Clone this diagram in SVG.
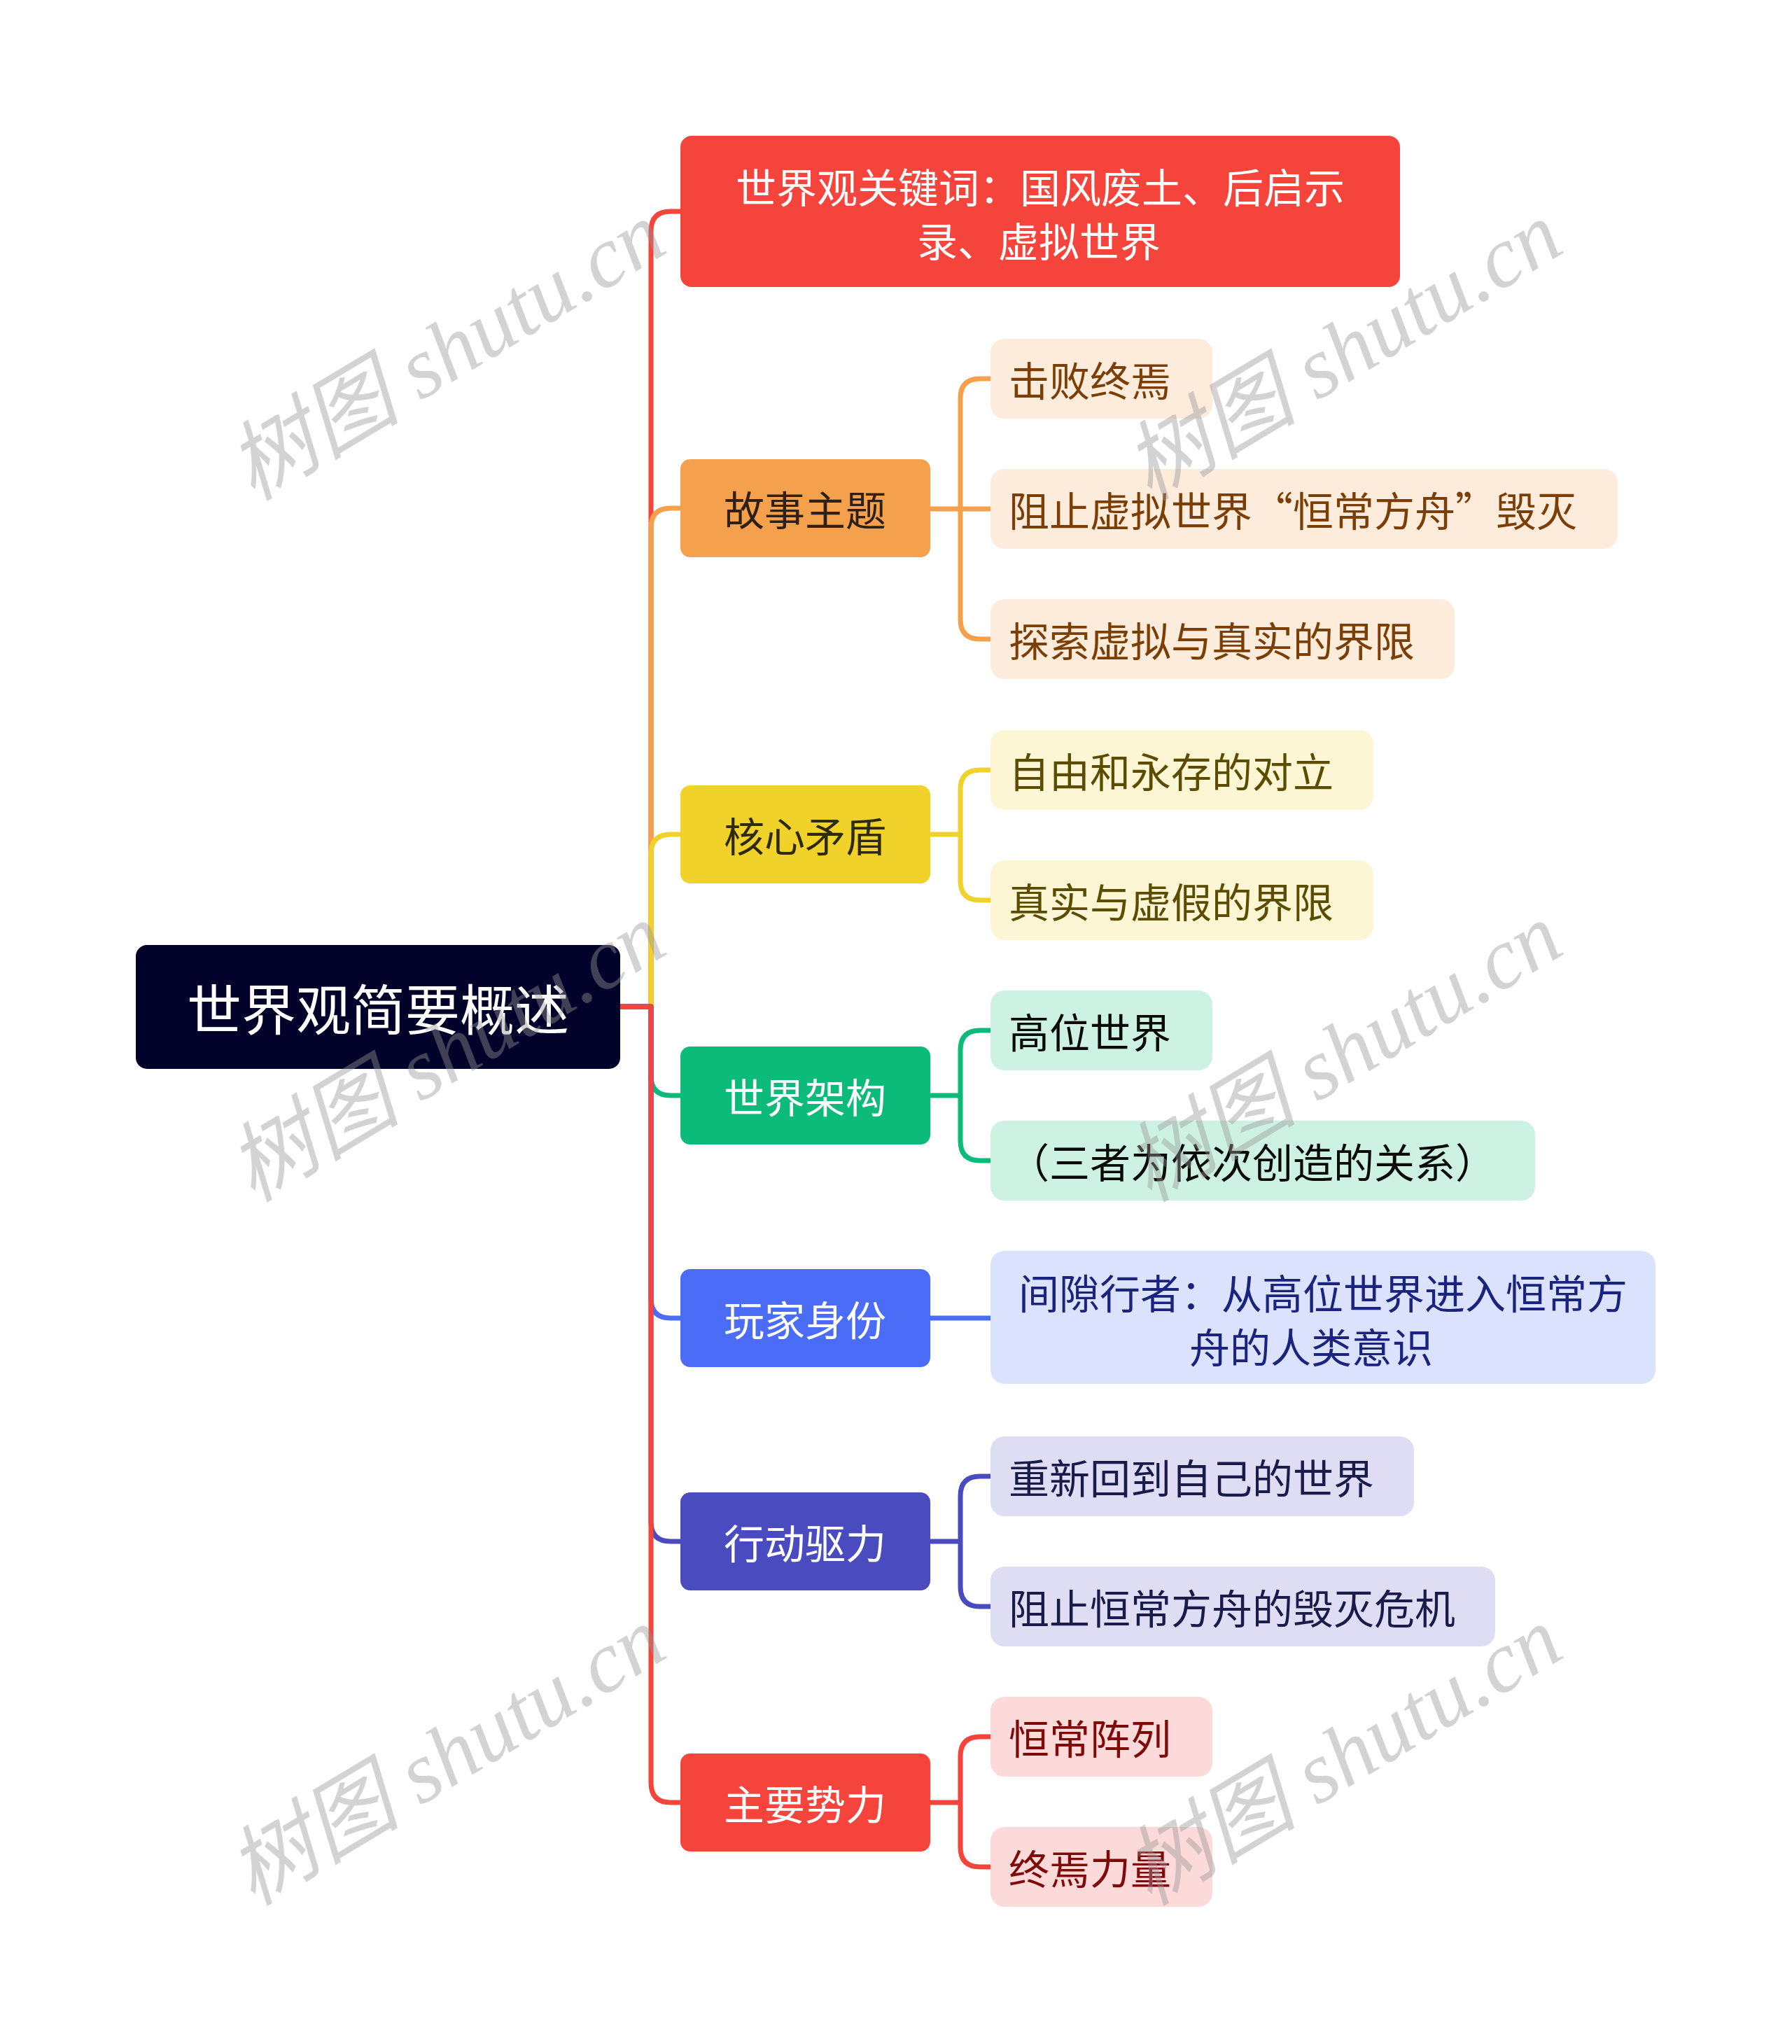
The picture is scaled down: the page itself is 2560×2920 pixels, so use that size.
<svg xmlns="http://www.w3.org/2000/svg" width="2560" height="2920" viewBox="0 0 2560 2920">
<style>
.t{font-family:"Noto Sans CJK SC","Noto Sans",sans-serif;dominant-baseline:central}
.l1{font-size:58px;text-anchor:middle}
.l2{font-size:58px}
.c{fill:none;stroke-width:7;stroke-linecap:round;stroke-linejoin:round}
.wm{font-family:"Liberation Serif","Noto Sans CJK SC",serif;font-style:italic;font-size:124px;fill:rgb(150,150,150);fill-opacity:0.42;text-anchor:middle;dominant-baseline:central}
</style>
<rect width="2560" height="2920" fill="#ffffff"/>
<g id="connectors">
<path class="c" stroke="#F5443B" d="M886 1438 H930 V330 Q930 302 958 302 H972"/>
<path class="c" stroke="#F4A04C" d="M886 1438 H930 V754 Q930 726 958 726 H972"/>
<path class="c" stroke="#F0D22A" d="M886 1438 H930 V1220 Q930 1192 958 1192 H972"/>
<path class="c" stroke="#0CBB7A" d="M886 1438 H930 V1537 Q930 1565 958 1565 H972"/>
<path class="c" stroke="#4A6CF7" d="M886 1438 H930 V1855 Q930 1883 958 1883 H972"/>
<path class="c" stroke="#4B4BC0" d="M886 1438 H930 V2174 Q930 2202 958 2202 H972"/>
<path class="c" stroke="#F5443B" d="M886 1438 H930 V2547 Q930 2575 958 2575 H972"/>
<path class="c" stroke="#F4A04C" d="M1329 727 H1372 V569 Q1372 541 1400 541 H1415 M1329 727 H1415 M1372 727 V885 Q1372 913 1400 913 H1415"/>
<path class="c" stroke="#F0D22A" d="M1329 1192 H1372 V1128 Q1372 1100 1400 1100 H1415 M1372 1192 V1258 Q1372 1286 1400 1286 H1415"/>
<path class="c" stroke="#0CBB7A" d="M1329 1565 H1372 V1500 Q1372 1472 1400 1472 H1415 M1372 1565 V1630 Q1372 1658 1400 1658 H1415"/>
<path class="c" stroke="#4A6CF7" d="M1329 1883 H1415"/>
<path class="c" stroke="#4B4BC0" d="M1329 2202 H1372 V2137 Q1372 2109 1400 2109 H1415 M1372 2202 V2267 Q1372 2295 1400 2295 H1415"/>
<path class="c" stroke="#F5443B" d="M1329 2575 H1372 V2509 Q1372 2481 1400 2481 H1415 M1372 2575 V2639 Q1372 2667 1400 2667 H1415"/>
</g>
<g id="root">
<rect x="194" y="1350" width="692" height="177" rx="16" fill="#02022A"/>
<text class="t" x="540" y="1438" font-size="78" text-anchor="middle" fill="#ffffff">世界观简要概述</text>
</g>
<g id="n-keywords">
<rect x="972" y="194" width="1028" height="216" rx="16" fill="#F5443B"/>
<text class="t l1" x="1486" y="265" fill="#ffffff">世界观关键词：国风废土、后启示</text>
<text class="t l1" x="1484" y="342" fill="#ffffff">录、虚拟世界</text>
</g>
<g id="n-story">
<rect x="972" y="656" width="357" height="140" rx="14" fill="#F4A04C"/>
<text class="t l1" x="1150" y="726" fill="#2E2012">故事主题</text>
</g>
<g id="n-story-1"><rect x="1415" y="484" width="317" height="114" rx="20" fill="#FDEBDC"/><text class="t l2" x="1441" y="541" fill="#7B3F05">击败终焉</text></g>
<g id="n-story-2"><rect x="1415" y="670" width="896" height="114" rx="20" fill="#FDEBDC"/><text class="t l2" x="1441" y="727" fill="#7B3F05">阻止虚拟世界“恒常方舟”毁灭</text></g>
<g id="n-story-3"><rect x="1415" y="856" width="663" height="114" rx="20" fill="#FDEBDC"/><text class="t l2" x="1441" y="913" fill="#7B3F05">探索虚拟与真实的界限</text></g>
<g id="n-conflict">
<rect x="972" y="1122" width="357" height="140" rx="14" fill="#F0D22A"/>
<text class="t l1" x="1150" y="1192" fill="#2E2A0A">核心矛盾</text>
</g>
<g id="n-conflict-1"><rect x="1415" y="1043" width="547" height="114" rx="20" fill="#FCF6D5"/><text class="t l2" x="1441" y="1100" fill="#5C4C00">自由和永存的对立</text></g>
<g id="n-conflict-2"><rect x="1415" y="1229" width="547" height="114" rx="20" fill="#FCF6D5"/><text class="t l2" x="1441" y="1286" fill="#5C4C00">真实与虚假的界限</text></g>
<g id="n-world">
<rect x="972" y="1495" width="357" height="140" rx="14" fill="#0CBB7A"/>
<text class="t l1" x="1150" y="1565" fill="#ffffff">世界架构</text>
</g>
<g id="n-world-1"><rect x="1415" y="1415" width="317" height="114" rx="20" fill="#CDF1E2"/><text class="t l2" x="1441" y="1472" fill="#0A0A0A">高位世界</text></g>
<g id="n-world-2"><rect x="1415" y="1601" width="778" height="114" rx="20" fill="#CDF1E2"/><text class="t l2" x="1441" y="1658" fill="#0A0A0A">（三者为依次创造的关系）</text></g>
<g id="n-player">
<rect x="972" y="1813" width="357" height="140" rx="14" fill="#4A6CF7"/>
<text class="t l1" x="1150" y="1883" fill="#ffffff">玩家身份</text>
</g>
<g id="n-player-1">
<rect x="1415" y="1787" width="950" height="190" rx="20" fill="#DBE2FD"/>
<text class="t l1" x="1890" y="1845" fill="#1A237E">间隙行者：从高位世界进入恒常方</text>
<text class="t l1" x="1873" y="1922" fill="#1A237E">舟的人类意识</text>
</g>
<g id="n-drive">
<rect x="972" y="2132" width="357" height="140" rx="14" fill="#4B4BC0"/>
<text class="t l1" x="1150" y="2202" fill="#ffffff">行动驱力</text>
</g>
<g id="n-drive-1"><rect x="1415" y="2052" width="605" height="114" rx="20" fill="#DEDDF3"/><text class="t l2" x="1441" y="2109" fill="#1B1B4B">重新回到自己的世界</text></g>
<g id="n-drive-2"><rect x="1415" y="2238" width="721" height="114" rx="20" fill="#DEDDF3"/><text class="t l2" x="1441" y="2295" fill="#1B1B4B">阻止恒常方舟的毁灭危机</text></g>
<g id="n-force">
<rect x="972" y="2505" width="357" height="140" rx="14" fill="#F5443B"/>
<text class="t l1" x="1150" y="2575" fill="#ffffff">主要势力</text>
</g>
<g id="n-force-1"><rect x="1415" y="2424" width="317" height="114" rx="20" fill="#FDDADA"/><text class="t l2" x="1441" y="2481" fill="#7F0A0A">恒常阵列</text></g>
<g id="n-force-2"><rect x="1415" y="2610" width="317" height="114" rx="20" fill="#FDDADA"/><text class="t l2" x="1441" y="2667" fill="#7F0A0A">终焉力量</text></g>
<g id="watermarks">
<text class="wm" transform="translate(638 502) rotate(-31)">树图 shutu.cn</text>
<text class="wm" transform="translate(1919 502) rotate(-31)">树图 shutu.cn</text>
<text class="wm" transform="translate(638 1504) rotate(-31)">树图 shutu.cn</text>
<text class="wm" transform="translate(1919 1504) rotate(-31)">树图 shutu.cn</text>
<text class="wm" transform="translate(638 2509) rotate(-31)">树图 shutu.cn</text>
<text class="wm" transform="translate(1919 2509) rotate(-31)">树图 shutu.cn</text>
</g>
</svg>
